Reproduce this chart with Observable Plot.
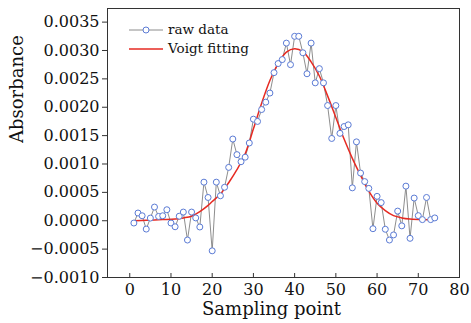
<!DOCTYPE html>
<html>
<head>
<meta charset="utf-8">
<script src="https://cdn.jsdelivr.net/npm/d3@7"></script>
<script src="https://cdn.jsdelivr.net/npm/@observablehq/plot@0.6"></script>
<style>
  html, body { margin: 0; padding: 0; background: #fff; }
  #wrap { position: relative; width: 471px; height: 323px; font-family: "DejaVu Serif", serif; }
  #legend { position: absolute; left: 128px; top: 20px; font-size: 13.5px; color: #111; line-height: 19px; }
  #legend .row { display: flex; align-items: center; height: 19px; }
  #legend svg { margin-right: 4px; }
</style>
</head>
<body>
<div id="wrap">
  <div id="chart"></div>
  <div id="legend">
    <div class="row"><svg width="36" height="10"><line x1="1" x2="35" y1="5" y2="5" stroke="#808080" stroke-width="0.9"/><circle cx="18" cy="5" r="3" fill="#fff" stroke="#5b7bd5" stroke-width="1"/></svg><span>raw data</span></div>
    <div class="row"><svg width="36" height="10"><line x1="1" x2="35" y1="5" y2="5" stroke="#e62a22" stroke-width="1.4"/></svg><span>Voigt fitting</span></div>
  </div>
</div>
<script>
// Raw data: sampling points 1..74
const rawX = d3.range(1, 75);
const rawY = [
  -0.00004, 0.000136, 0.000088, -0.000147, 0.000047, 0.000241, 0.000076, 0.000088, 0.000194, -0.00004,
  -0.000106, 0.00008, 0.000153, -0.00034, 0.000153, 0.00005, -0.00011, 0.00068, 0.00041, -0.00053,
  0.00068, 0.00044, 0.00059, 0.00094, 0.00144, 0.001165, 0.00104, 0.00112, 0.00137, 0.00179,
  0.00175, 0.00196, 0.00209, 0.00225, 0.00261, 0.00277, 0.00284, 0.00313, 0.00275, 0.00325,
  0.00325, 0.00296, 0.00259, 0.00313, 0.00243, 0.00268, 0.00243, 0.00203, 0.00145, 0.00203,
  0.00154, 0.00166, 0.00169, 0.00058, 0.00139, 0.00084, 0.00069, 0.00057, -0.00014, 0.00043,
  0.00032, -0.00015, -0.00034, -0.00025, 0.00017, -0.00009, 0.00061, -0.00031, 0.0004, 0.00009,
  0.00002, 0.00041, 0.00002, 0.00005
];
// Voigt fitting curve
const fitX = [1, 4, 8, 11, 13, 15, 17, 19, 20, 22, 24, 26, 28, 30, 32, 34, 36, 38, 40, 42, 44, 46, 48, 50, 52, 54, 56, 58, 60, 62, 64, 66, 68, 71, 74];
const fitY = [0, 0.00001, 0.00002, 0.00003, 0.00005, 0.00008, 0.00016, 0.00027, 0.00034, 0.00047, 0.00067, 0.0009, 0.00118, 0.00162, 0.00207, 0.00247, 0.00277, 0.00297, 0.00303, 0.00298, 0.0028, 0.00255, 0.0022, 0.00182, 0.00144, 0.0011, 0.0008, 0.00052, 0.00031, 0.00018, 0.00009, 0.00005, 0.00003, 0.00002, 0.00002];
const xTicks = [0, 10, 20, 30, 40, 50, 60, 70, 80];
const yTicks = [-0.001, -0.0005, 0, 0.0005, 0.001, 0.0015, 0.002, 0.0025, 0.003, 0.0035];
const xTitle = "Sampling point";
const yTitle = "Absorbance";

const raw = rawX.map((x, i) => ({x, y: rawY[i]}));
const fit = fitX.map((x, i) => ({x, y: fitY[i]}));

const W = 471, H = 323, mT = 8, mB = 46, mL = 107, mR = 12;
const plot = Plot.plot({
  width: W, height: H,
  marginTop: mT, marginBottom: mB, marginLeft: mL, marginRight: mR,
  style: {fontFamily: "DejaVu Serif, serif", fontSize: "16px", color: "#111", background: "#fff"},
  x: {domain: [-5.4, 80]},
  y: {domain: [-0.001, 0.00374]},
  marks: [
    Plot.line(raw, {x: "x", y: "y", stroke: "#808080", strokeWidth: 0.9}),
    Plot.line(fit, {x: "x", y: "y", stroke: "#e62a22", strokeWidth: 1.5, curve: "catmull-rom"}),
    Plot.dot(raw, {x: "x", y: "y", r: 3, fill: "#fff", stroke: "#5b7bd5", strokeWidth: 1}),
    Plot.axisY({ticks: yTicks, tickFormat: d3.format(".4f"), tickSize: 5, tickPadding: 3, label: null, stroke: "#333"}),
    Plot.axisX({ticks: xTicks, tickSize: 0, tickPadding: 6, label: null}),
    Plot.tickX(xTicks, {x: d => d, stroke: "#333", insetTop: H - mT - mB - 4}),
    Plot.frame({stroke: "#333", strokeWidth: 1}),
    Plot.text([xTitle], {frameAnchor: "bottom", lineAnchor: "top", dy: 25, dx: -12, fontSize: 18, fill: "#111"}),
    Plot.text([yTitle], {frameAnchor: "left", rotate: -90, dx: -90, fontSize: 18, fill: "#111"})
  ]
});
document.getElementById("chart").appendChild(plot);
</script>
</body>
</html>
